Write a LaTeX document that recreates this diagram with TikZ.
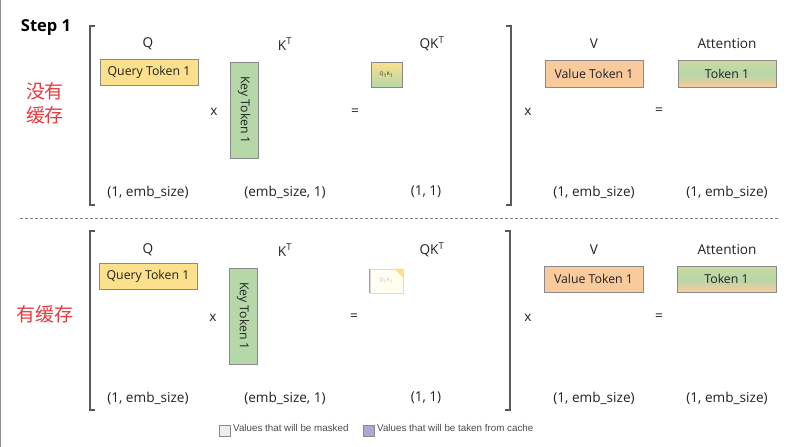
\documentclass[tikz,border=0pt]{standalone}
\usepackage{fontspec}
\setmainfont{Open Sans}
\newfontfamily\cjk{Noto Sans CJK SC}
\newfontfamily\legfont{Liberation Sans}
\definecolor{qyel}{HTML}{FCE08C}
\definecolor{kgrn}{HTML}{B6D7A8}
\definecolor{vorg}{HTML}{F9CB9C}
\definecolor{redcn}{HTML}{E8393F}
\definecolor{brd}{HTML}{8A8A8A}
\definecolor{txt}{HTML}{222222}
\definecolor{purp}{HTML}{B4A7D6}
\tikzset{
  lbl/.style={font=\fontsize{13.6}{15}\selectfont, text=txt, inner sep=0pt},
  cn/.style={font=\cjk\fontsize{19}{24}\selectfont, text=redcn, inner sep=0pt, align=center},
  tok/.style={draw=brd, line width=0.8pt, font=\fontsize{12.3}{14}\selectfont, text=txt, inner sep=0pt},
  brk/.style={draw=black!65, line width=1.4pt},
  legbox/.style={draw=brd, line width=0.6pt, minimum width=11pt, minimum height=11pt, inner sep=0pt},
  legtxt/.style={font=\legfont\fontsize{9.8}{11}\selectfont, text=black!70, inner sep=0pt, anchor=west},
}
\begin{document}
\begin{tikzpicture}[x=1pt,y=-1pt]
\useasboundingbox (0,0) rectangle (793,447);
\fill[white] (0,0) rectangle (793,447);
\draw[black!45, line width=1.2pt] (0.6,0) -- (0.6,447);
\node[font=\bfseries\fontsize{16.5}{18}\selectfont, inner sep=0pt] (step) at (46,28) {Step 1};
\draw[black!50, dashed, line width=0.7pt, dash pattern=on 3pt off 2pt] (20,218) coordinate (dl) -- (780,218) coordinate (dr);

% ---------- top section ----------
\begin{scope}
\node[cn] (cn1) at (45,103) {没有\\缓存};
\draw[brk] (95,26) -- (90,26) -- (90,205) -- (95,205);
\draw[brk] (506,26) -- (511,26) -- (511,205) -- (506,205);
\node[lbl] (q1l) at (148,44) {Q};
\node[lbl] (k1l) at (285,44) {K\textsuperscript{T}};
\node[lbl] (qk1l) at (432,44) {QK\textsuperscript{T}};
\node[lbl] (v1l) at (594,44) {V};
\node[lbl] (a1l) at (727,44) {Attention};
\node[tok, fill=qyel, minimum width=98pt, minimum height=26pt] (q1) at (149,72) {Query Token 1};
\node[tok, fill=kgrn, minimum width=28pt, minimum height=96pt] (k1) at (244,110) {};
\node[font=\fontsize{12.3}{14}\selectfont, text=txt, rotate=-90] (k1t) at (k1.center) {Key Token 1};
\node[tok, top color=qyel, bottom color=kgrn, minimum width=31pt, minimum height=25pt, font=\fontsize{5}{6}\selectfont] (qk1) at (386.5,74.5) {Q\textsubscript{1}K\textsubscript{1}};
\node[tok, fill=vorg, minimum width=98pt, minimum height=27pt] (v1) at (594,73.5) {Value Token 1};
\node[tok, top color=kgrn!70!qyel, bottom color=vorg, middle color=kgrn, minimum width=98pt, minimum height=27pt] (a1) at (727,73.5) {Token 1};
\node[lbl] (x1a) at (214,112) {x};
\node[lbl] (e1a) at (355,112) {=};
\node[lbl] (x1b) at (528,112) {x};
\node[lbl] (e1b) at (659,111) {=};
\node[lbl] (d1a) at (148,192) {(1, emb\_size)};
\node[lbl] (d1b) at (285,192) {(emb\_size, 1)};
\node[lbl] (d1c) at (426,192) {(1, 1)};
\node[lbl] (d1d) at (594,192) {(1, emb\_size)};
\node[lbl] (d1e) at (727,192) {(1, emb\_size)};
\end{scope}

% ---------- bottom section ----------
\begin{scope}
\node[cn] (cn2) at (45,314) {有缓存};
\draw[brk] (95,231) -- (90,231) -- (90,410) -- (95,410);
\draw[brk] (505,231) -- (510,231) -- (510,410) -- (505,410);
\node[lbl] (q2l) at (148,250) {Q};
\node[lbl] (k2l) at (285,250) {K\textsuperscript{T}};
\node[lbl] (qk2l) at (432,250) {QK\textsuperscript{T}};
\node[lbl] (v2l) at (594,250) {V};
\node[lbl] (a2l) at (727,250) {Attention};
\node[tok, fill=qyel, minimum width=98pt, minimum height=26pt] (q2) at (148,276) {Query Token 1};
\node[tok, fill=kgrn, minimum width=28pt, minimum height=96pt] (k2) at (243,316) {};
\node[font=\fontsize{12.3}{14}\selectfont, text=txt, rotate=-90] (k2t) at (k2.center) {Key Token 1};
\node[draw=black!15, line width=0.6pt, fill=yellow!6!white, minimum width=33pt, minimum height=24pt, inner sep=0pt, font=\fontsize{5}{6}\selectfont, text=black!25] (qk2) at (386.5,281) {Q\textsubscript{1}K\textsubscript{1}};
\fill[qyel] (qk2.north east) -- ++(-9,0) -- ++(9,9) -- cycle;
\draw[kgrn!80!black, line width=1.2pt] (qk2.north west) -- (qk2.south west);
\node[tok, fill=vorg, minimum width=99pt, minimum height=26pt] (v2) at (593.5,279) {Value Token 1};
\node[tok, top color=kgrn!70!qyel, bottom color=vorg, middle color=kgrn, minimum width=99pt, minimum height=26pt] (a2) at (726.5,279) {Token 1};
\node[lbl] (x2a) at (213,318) {x};
\node[lbl] (e2a) at (354,317) {=};
\node[lbl] (x2b) at (528,318) {x};
\node[lbl] (e2b) at (659,317) {=};
\node[lbl] (d2a) at (148,398) {(1, emb\_size)};
\node[lbl] (d2b) at (285,398) {(emb\_size, 1)};
\node[lbl] (d2c) at (426,398) {(1, 1)};
\node[lbl] (d2d) at (594,398) {(1, emb\_size)};
\node[lbl] (d2e) at (727,398) {(1, emb\_size)};
\end{scope}

% legend
\node[legbox, fill=black!7] (lg1) at (224.5,430.5) {};
\node[legtxt] (lg1t) at (233,428) {Values that will be masked};
\node[legbox, fill=purp] (lg2) at (368.5,430.5) {};
\node[legtxt] (lg2t) at (377,428) {Values that will be taken from cache};
\end{tikzpicture}
\end{document}
